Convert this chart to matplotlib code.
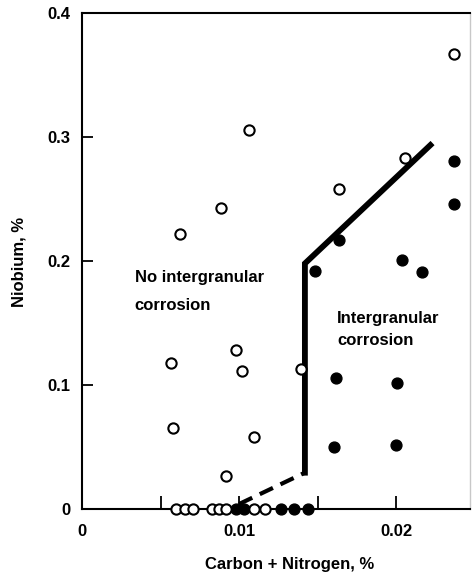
import numpy as np
import matplotlib.pyplot as plt

plt.rcParams['font.family'] = ['Liberation Sans', 'DejaVu Sans']
plt.rcParams['font.weight'] = 'bold'
plt.rcParams['font.size'] = 12

# no intergranular corrosion (open circles)
open_x = [0.02367, 0.01062, 0.00887, 0.00626, 0.02059, 0.01635, 0.00569, 0.00979,
          0.01021, 0.01397, 0.00580, 0.01094, 0.00915,
          0.00599, 0.00656, 0.00707, 0.00828, 0.00873, 0.00917, 0.01096, 0.01166]
open_y = [0.367, 0.306, 0.243, 0.222, 0.283, 0.258, 0.118, 0.128,
          0.111, 0.113, 0.065, 0.058, 0.027,
          0, 0, 0, 0, 0, 0, 0, 0]

# intergranular corrosion (filled circles)
filled_x = [0.02367, 0.02367, 0.01635, 0.01486, 0.02034, 0.02166, 0.01620, 0.02006,
            0.01603, 0.01996, 0.00981, 0.01032, 0.01268, 0.01350, 0.01439]
filled_y = [0.281, 0.246, 0.217, 0.192, 0.201, 0.191, 0.106, 0.102,
            0.050, 0.052, 0, 0, 0, 0, 0]

# boundary line
solid_x = [0.01419, 0.01419, 0.02218]
solid_y = [0.0293, 0.198, 0.2935]
dash_x = [0.01000, 0.01419]
dash_y = [0.004, 0.0293]

fig = plt.figure(figsize=(4.72, 5.74), dpi=100)
ax = fig.add_axes([82 / 472, 65 / 574, 388 / 472, 496 / 574])

ax.plot(solid_x, solid_y, color='black', lw=4.2, solid_joinstyle='miter', zorder=2)
ax.plot(dash_x, dash_y, color='black', lw=3.0, dashes=(3.5, 2.0), zorder=2)

ax.plot(filled_x, filled_y, 'o', ms=7.8, color='black', mec='black', clip_on=False, zorder=3)
ax.plot(open_x, open_y, 'o', ms=7.4, mfc='white', mec='black', mew=1.5, clip_on=False, zorder=4)

ax.set_xlim(0, 0.0247)
ax.set_ylim(0, 0.4)

ax.set_xticks([0, 0.005, 0.01, 0.015, 0.02])
ax.set_xticklabels(['0', '', '0.01', '', '0.02'])
ax.set_yticks([0, 0.1, 0.2, 0.3, 0.4])
ax.set_yticklabels(['0', '0.1', '0.2', '0.3', '0.4'])
ax.tick_params(axis='x', direction='in', length=9.5, width=1.3, pad=11)
ax.tick_params(axis='y', direction='in', length=8, width=1.3, pad=8.5)

for s in ['left', 'bottom', 'top']:
    ax.spines[s].set_linewidth(1.5)
ax.spines['right'].set_linewidth(1.0)
ax.spines['right'].set_color('#c8c8c8')

ax.text(0.00336, 0.1827, 'No intergranular', fontsize=12, fontweight='bold')
ax.text(0.00336, 0.1605, 'corrosion', fontsize=12, fontweight='bold')
ax.text(0.01624, 0.1498, 'Intergranular', fontsize=12, fontweight='bold')
ax.text(0.01624, 0.1319, 'corrosion', fontsize=12, fontweight='bold')

fig.text(290 / 472, 1 - 565 / 574, 'Carbon + Nitrogen, %', ha='center', va='center',
         fontsize=12, fontweight='bold')
fig.text(19 / 472, 1 - 262 / 574, 'Niobium, %', ha='center', va='center', rotation=90,
         fontsize=12, fontweight='bold')

fig.savefig('out.png', dpi=100)
